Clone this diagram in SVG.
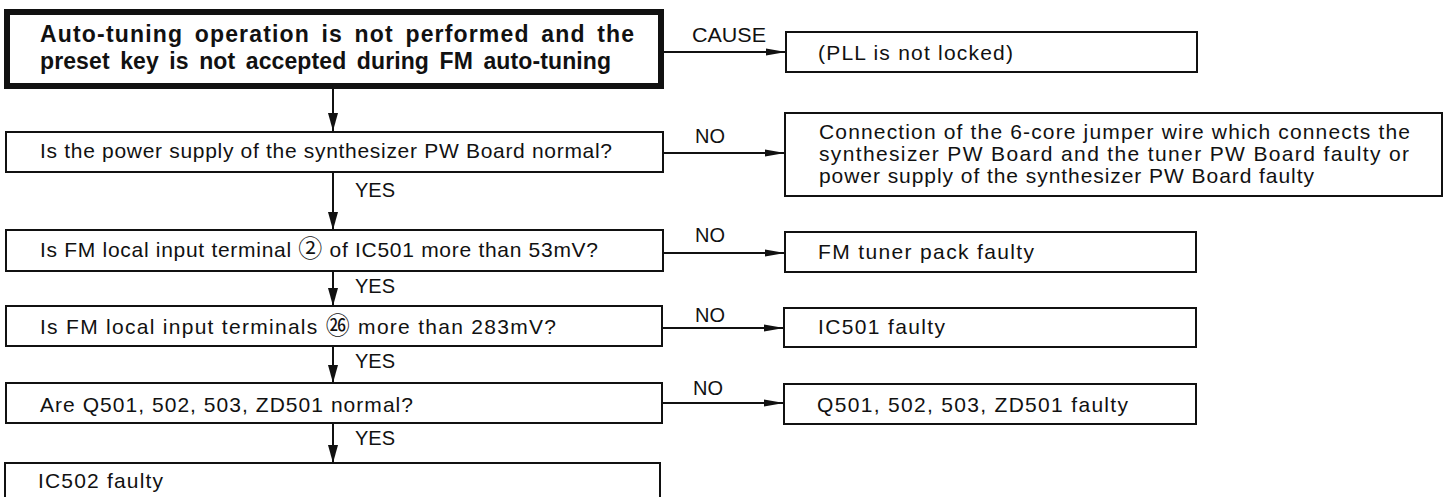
<svg xmlns="http://www.w3.org/2000/svg" width="1451" height="497" viewBox="0 0 1451 497">
<style>
.box{fill:#fff;stroke:#111;stroke-width:2}
.tbox{fill:#fff;stroke:#111;stroke-width:6}
.t{font-family:"Liberation Sans","Noto Sans CJK JP",sans-serif;font-size:21px;fill:#111}
.tb{font-family:"Liberation Sans",sans-serif;font-size:23px;font-weight:bold;fill:#111;word-spacing:4px}
.lbl{font-family:"Liberation Sans",sans-serif;font-size:20px;fill:#111}
.cd{font-family:"Noto Sans CJK JP",sans-serif;font-size:24px}
.c{stroke:#111;stroke-width:2;fill:none}
</style>
<defs>
<marker id="ah" markerUnits="userSpaceOnUse" markerWidth="20" markerHeight="10" refX="20" refY="5" orient="auto">
<path d="M0,1.5 L20,5 L0,8.5 Z" fill="#111"/>
</marker>
<marker id="av" markerUnits="userSpaceOnUse" markerWidth="18" markerHeight="12" refX="18" refY="6" orient="auto">
<path d="M0,1 L18,6 L0,11 Z" fill="#111"/>
</marker>
</defs>
<rect width="1451" height="497" fill="#fff"/>
<g id="connectors">
<line class="c" x1="664" y1="52" x2="786" y2="52" marker-end="url(#ah)"/>
<line class="c" x1="333" y1="89" x2="333" y2="131" marker-end="url(#av)"/>
<line class="c" x1="663" y1="153" x2="785" y2="153" marker-end="url(#ah)"/>
<line class="c" x1="333" y1="172" x2="333" y2="230" marker-end="url(#av)"/>
<line class="c" x1="663" y1="253" x2="785" y2="253" marker-end="url(#ah)"/>
<line class="c" x1="333" y1="271" x2="333" y2="306" marker-end="url(#av)"/>
<line class="c" x1="662" y1="328" x2="784" y2="328" marker-end="url(#ah)"/>
<line class="c" x1="333" y1="346" x2="333" y2="383" marker-end="url(#av)"/>
<line class="c" x1="662" y1="403" x2="784" y2="403" marker-end="url(#ah)"/>
<line class="c" x1="333" y1="423" x2="333" y2="463" marker-end="url(#av)"/>
<text class="lbl" x="692" y="42" textLength="74" lengthAdjust="spacingAndGlyphs">CAUSE</text>
<text class="lbl" x="695" y="143">NO</text>
<text class="lbl" x="355" y="197">YES</text>
<text class="lbl" x="695" y="242">NO</text>
<text class="lbl" x="355" y="293">YES</text>
<text class="lbl" x="695" y="322">NO</text>
<text class="lbl" x="355" y="368">YES</text>
<text class="lbl" x="693" y="395">NO</text>
<text class="lbl" x="355" y="445">YES</text>
</g>
<g id="start">
<rect class="tbox" x="7" y="12" width="654" height="74"/>
<text class="tb" x="40" y="42" textLength="594" lengthAdjust="spacing">Auto-tuning operation is not performed and the</text>
<text class="tb" x="40" y="69" textLength="571" lengthAdjust="spacing">preset key is not accepted during FM auto-tuning</text>
</g>
<g id="cause">
<rect class="box" x="786" y="32" width="411" height="40"/>
<text class="t" x="818" y="60" textLength="195" lengthAdjust="spacing">(PLL is not locked)</text>
</g>
<g id="q1">
<rect class="box" x="6" y="132" width="657" height="40"/>
<text class="t" x="40" y="158" textLength="572" lengthAdjust="spacing">Is the power supply of the synthesizer PW Board normal?</text>
</g>
<g id="r1">
<rect class="box" x="785" y="113" width="657" height="83"/>
<text class="t" x="819" y="139" textLength="591" lengthAdjust="spacing">Connection of the 6-core jumper wire which connects the</text>
<text class="t" x="819" y="161" textLength="590" lengthAdjust="spacing">synthesizer PW Board and the tuner PW Board faulty or</text>
<text class="t" x="819" y="183" textLength="495" lengthAdjust="spacing">power supply of the synthesizer PW Board faulty</text>
</g>
<g id="q2">
<rect class="box" x="6" y="230" width="657" height="41"/>
<text class="t" x="40" y="257" textLength="558" lengthAdjust="spacing">Is FM local input terminal <tspan class="cd">②</tspan> of IC501 more than 53mV?</text>
</g>
<g id="r2">
<rect class="box" x="785" y="232" width="411" height="40"/>
<text class="t" x="818" y="259" textLength="216" lengthAdjust="spacing">FM tuner pack faulty</text>
</g>
<g id="q3">
<rect class="box" x="6" y="306" width="656" height="40"/>
<text class="t" x="40" y="334" textLength="516" lengthAdjust="spacing">Is FM local input terminals <tspan class="cd">㉖</tspan> more than 283mV?</text>
</g>
<g id="r3">
<rect class="box" x="784" y="308" width="412" height="39"/>
<text class="t" x="818" y="334" textLength="127" lengthAdjust="spacing">IC501 faulty</text>
</g>
<g id="q4">
<rect class="box" x="6" y="383" width="656" height="40"/>
<text class="t" x="40" y="412" textLength="373" lengthAdjust="spacing">Are Q501, 502, 503, ZD501 normal?</text>
</g>
<g id="r4">
<rect class="box" x="784" y="384" width="412" height="40"/>
<text class="t" x="817" y="412" textLength="311" lengthAdjust="spacing">Q501, 502, 503, ZD501 faulty</text>
</g>
<g id="end">
<rect class="box" x="5" y="463" width="655" height="60"/>
<text class="t" x="38" y="488" textLength="125" lengthAdjust="spacing">IC502 faulty</text>
</g>
</svg>
